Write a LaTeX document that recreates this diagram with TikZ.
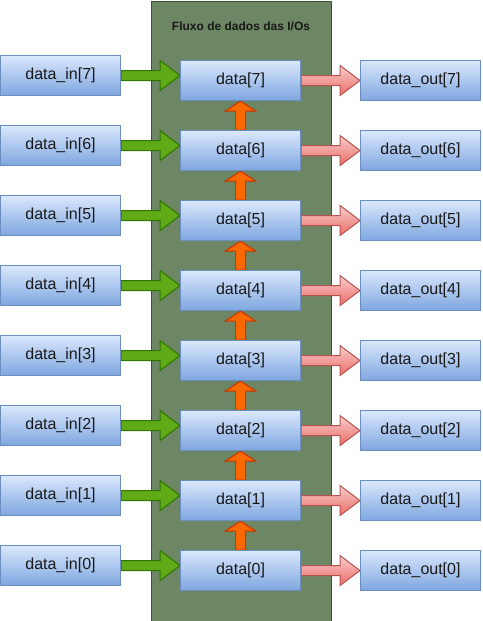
\documentclass[tikz,border=0pt]{standalone}
\usepackage{fontspec}
\setmainfont{Liberation Sans}
\usetikzlibrary{calc}
\pgfdeclarelayer{bglayer}
\pgfdeclarelayer{arrowlayer}
\pgfsetlayers{bglayer,arrowlayer,main}
\definecolor{bgfill}{HTML}{6D8764}
\definecolor{bgline}{HTML}{3A5431}
\definecolor{boxtop}{HTML}{DAE8FC}
\definecolor{boxbot}{HTML}{7EA6E0}
\definecolor{boxline}{HTML}{6C8EBF}
\definecolor{grfill}{HTML}{60A917}
\definecolor{grline}{HTML}{2D7600}
\definecolor{pktop}{HTML}{F8CECC}
\definecolor{pkbot}{HTML}{EA6B66}
\definecolor{pkline}{HTML}{B85450}
\definecolor{orfill}{HTML}{FA6800}
\definecolor{orline}{HTML}{C73500}
\tikzset{
 bgbox/.style={draw=bgline, fill=bgfill, line width=1pt, minimum width=180pt, minimum height=620pt, inner sep=0pt, anchor=north west},
 titletext/.style={font=\fontsize{12}{14}\selectfont\bfseries, text=black!90, inner sep=0pt},
 box/.style={draw=boxline, line width=1pt, top color=boxtop, bottom color=boxbot, minimum width=120pt, minimum height=40pt, inner sep=0pt, font=\fontsize{16}{19}\selectfont, text=black!90},
 inarrow/.style={fill=grfill, draw=grline, line width=1pt, line join=miter},
 outarrow/.style={top color=pktop, bottom color=pkbot, draw=pkline, line width=1pt},
 uparrow/.style={fill=orfill, draw=orline, line width=1pt},
}
\newcommand\harrow[3]{\draw[#1] let \p1=(#2), \p2=(#3) in (\x1,\y1+5pt) -- (\x2-20pt,\y1+5pt) -- (\x2-20pt,\y1+15pt) -- (\x2,\y1) -- (\x2-20pt,\y1-15pt) -- (\x2-20pt,\y1-5pt) -- (\x1,\y1-5pt) -- cycle;}
\newcommand\varrow[3]{\draw[#1] let \p1=(#2), \p2=(#3) in (\x1-5pt,\y1) -- (\x1-5pt,\y2-10pt) -- (\x1-15pt,\y2-10pt) -- (\x1,\y2) -- (\x1+15pt,\y2-10pt) -- (\x1+5pt,\y2-10pt) -- (\x1+5pt,\y1) -- cycle;}
\begin{document}
\begin{tikzpicture}[x=1pt, y=-1pt]
\useasboundingbox (0,0) rectangle (482,621);
\begin{pgfonlayer}{bglayer}
\node[bgbox] (bg) at (150.5,0.5) {};
\end{pgfonlayer}
\node[titletext] (title) at (241,26) {Fluxo de dados das I/Os};
\foreach \i in {0,...,7}{
  \node[box] (in\i) at (60.5,{75.5+70*(7-\i)}) {data\_in[\i]};
  \node[box] (d\i) at (240.5,{80.5+70*(7-\i)}) {data[\i]};
  \node[box] (out\i) at (420.5,{80.5+70*(7-\i)}) {data\_out[\i]};
}
\begin{pgfonlayer}{arrowlayer}
\foreach \i in {0,...,7}{
  \harrow{inarrow}{in\i.east}{d\i.west |- in\i.east}
  \harrow{outarrow}{d\i.east}{out\i.west}
}
\foreach \i [evaluate=\i as \j using int(\i-1)] in {1,...,7}{
  \varrow{uparrow}{d\j.north}{d\i.south}
}
\end{pgfonlayer}
\end{tikzpicture}
\end{document}
